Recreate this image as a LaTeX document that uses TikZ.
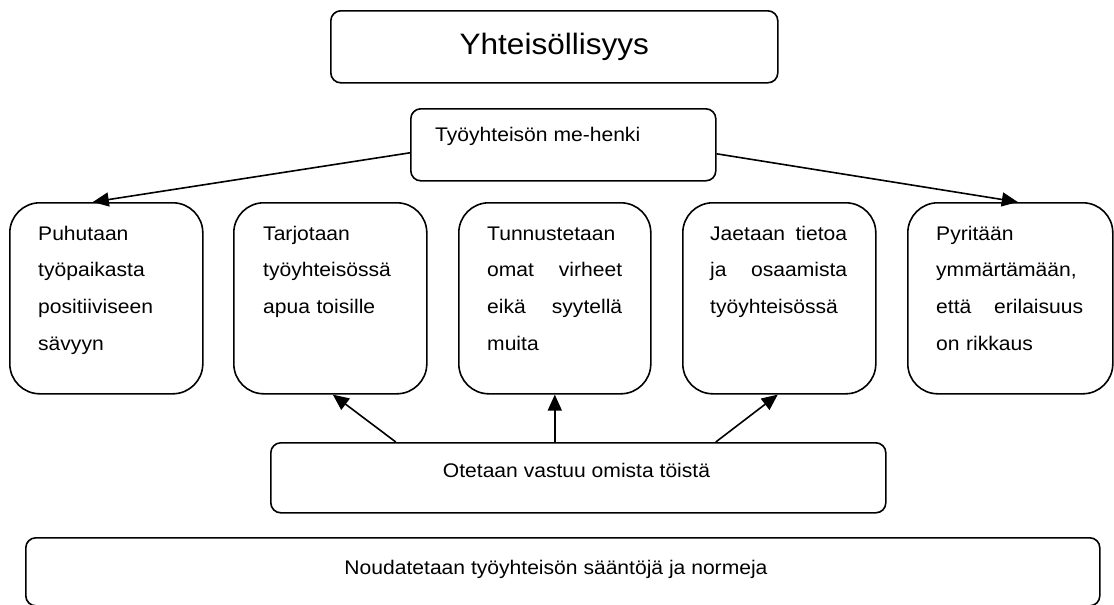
\documentclass[tikz,border=0pt]{standalone}
\usepackage{fontspec}
\setmainfont{Liberation Sans}[FakeStretch=1.07]
\usetikzlibrary{arrows.meta}

% a line whose two words are pushed to the edges of the text column
\newcommand{\spreadpair}[3]{\makebox[#1][l]{#2\hfill #3}}

\begin{document}
\begin{tikzpicture}[x=1pt,y=-1pt,
  frame/.style={draw, line width=1.6pt, inner sep=0pt, anchor=north west},
  smallbox/.style={frame, rounded corners=10pt},
  cellbox/.style={frame, rounded corners=30pt, minimum height=191pt},
  celltext/.style={anchor=north west, inner sep=0pt, align=left,
    font=\fontsize{19.7}{36.7}\selectfont},
  plain/.style={inner sep=0pt, font=\fontsize{19.7}{24}\selectfont},
  arr/.style={line width=1.6pt, -{Triangle[length=16pt,width=14pt]}}]

\useasboundingbox (0,0) rectangle (1114,605);

% heading
\node[smallbox, minimum width=447pt, minimum height=72pt,
      font=\fontsize{29.5}{35}\selectfont] (head) at (330,10) {Yhteisöllisyys};

% team spirit
\node[smallbox, minimum width=305pt, minimum height=72pt] (spirit) at (410,108) {};
\node[plain, anchor=base west] (spirittext) at (435,141) {Työyhteisön me-henki};

% the five practices
\node[cellbox, minimum width=193pt] (b1) at (9,202) {};
\node[cellbox, minimum width=193pt] (b2) at (233,202) {};
\node[cellbox, minimum width=192pt] (b3) at (458,202) {};
\node[cellbox, minimum width=193pt] (b4) at (682,202) {};
\node[cellbox, minimum width=205pt] (b5) at (907,202) {};

\node[celltext, text width=140pt] (t1) at ([shift={(29,23)}]b1.north west)
  {\rule{0pt}{15pt}Puhutaan\\työpaikasta\\positiiviseen\\sävyyn};
\node[celltext, text width=140pt] (t2) at ([shift={(30,23)}]b2.north west)
  {\rule{0pt}{15pt}Tarjotaan\\työyhteisössä\\apua toisille};
\node[celltext, text width=135pt] (t3) at ([shift={(29,23)}]b3.north west)
  {\rule{0pt}{15pt}Tunnustetaan\\\spreadpair{135pt}{omat}{virheet}\\\spreadpair{135pt}{eikä}{syytellä}\\muita};
\node[celltext, text width=137pt] (t4) at ([shift={(28,23)}]b4.north west)
  {\rule{0pt}{15pt}\spreadpair{137pt}{Jaetaan}{tietoa}\\\spreadpair{137pt}{ja}{osaamista}\\työyhteisössä};
\node[celltext, text width=147pt] (t5) at ([shift={(29,23)}]b5.north west)
  {\rule{0pt}{15pt}Pyritään\\ymmärtämään,\\\spreadpair{147pt}{että}{erilaisuus}\\on rikkaus};

% responsibility
\node[smallbox, minimum width=615pt, minimum height=70pt] (resp) at (270,442) {};
\node[plain, anchor=base] (resptext) at (576.5,477) {Otetaan vastuu omista töistä};

% rules and norms
\node[smallbox, minimum width=1074pt, minimum height=68pt] (rules) at (25,537) {};
\node[plain, anchor=base] (rulestext) at (556,574) {Noudatetaan työyhteisön sääntöjä ja normeja};

% connectors
\draw[arr] ([yshift=-8pt]spirit.west) -- ([xshift=-13.5pt]b1.north);
\draw[arr] ([yshift=-9pt]spirit.east) -- ([xshift=7.5pt]b5.north);
\draw[arr] ([xshift=-182.5pt]resp.north) -- ([xshift=2.5pt]b2.south);
\draw[arr] ([xshift=-23.5pt]resp.north) -- (b3.south);
\draw[arr] ([xshift=137.5pt]resp.north) -- ([xshift=-1.5pt]b4.south);
\end{tikzpicture}
\end{document}
